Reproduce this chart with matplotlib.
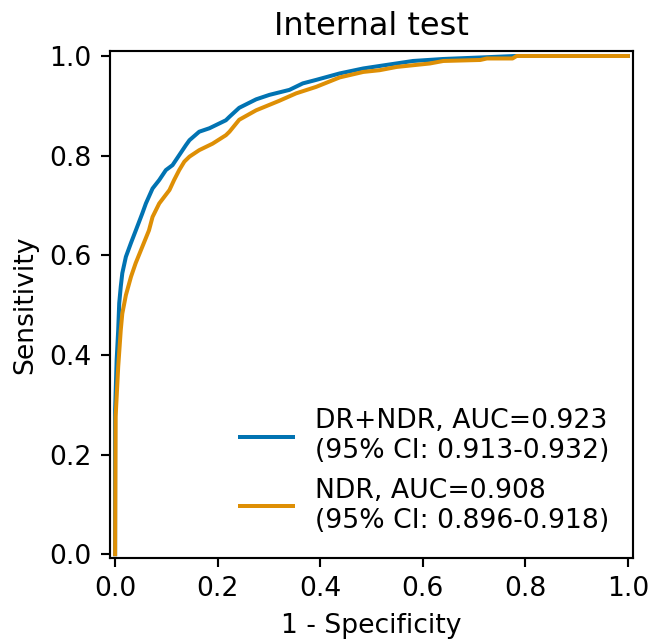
import matplotlib
matplotlib.use('Agg')
import matplotlib.pyplot as plt

# ROC points (1 - specificity, sensitivity)
fpr_all = [0.0, 0.0, 0.003, 0.006, 0.008, 0.011, 0.014, 0.021, 0.031, 0.040, 0.053, 0.060,
           0.073, 0.086, 0.099, 0.112, 0.125, 0.138, 0.145, 0.164, 0.184, 0.216, 0.223,
           0.242, 0.275, 0.301, 0.340, 0.366, 0.392, 0.438, 0.484, 0.529, 0.581, 0.640,
           0.712, 0.780, 1.0]
tpr_all = [0.0, 0.29, 0.39, 0.45, 0.504, 0.537, 0.564, 0.597, 0.625, 0.649, 0.684, 0.704,
           0.734, 0.751, 0.771, 0.781, 0.801, 0.821, 0.831, 0.848, 0.855, 0.871, 0.878,
           0.896, 0.913, 0.922, 0.932, 0.945, 0.952, 0.965, 0.975, 0.982, 0.990, 0.994,
           0.997, 1.0, 1.0]

fpr_ndr = [0.0, 0.001, 0.006, 0.011, 0.014, 0.021, 0.031, 0.040, 0.053, 0.066, 0.073,
           0.086, 0.106, 0.115, 0.125, 0.135, 0.145, 0.164, 0.190, 0.216, 0.223, 0.242,
           0.275, 0.320, 0.353, 0.392, 0.438, 0.484, 0.516, 0.549, 0.614, 0.640, 0.712,
           0.725, 0.775, 0.783, 1.0]
tpr_ndr = [0.0, 0.276, 0.376, 0.450, 0.483, 0.520, 0.557, 0.584, 0.617, 0.650, 0.677,
           0.704, 0.731, 0.751, 0.771, 0.788, 0.798, 0.811, 0.824, 0.841, 0.848, 0.872,
           0.891, 0.910, 0.925, 0.938, 0.957, 0.968, 0.9715, 0.978, 0.985, 0.990, 0.992,
           0.995, 0.995, 1.0, 1.0]

labels = ['DR+NDR, AUC=0.923\n(95% CI: 0.913-0.932)',
          'NDR, AUC=0.908\n(95% CI: 0.896-0.918)']
colors = ['#0173b2', '#de8f05']
ticks = [0.0, 0.2, 0.4, 0.6, 0.8, 1.0]

fig = plt.figure(figsize=(652 / 192, 644 / 192), dpi=192)
ax = fig.add_axes([0.1687, 0.134, 0.8022, 0.7868])

ax.plot(fpr_all, tpr_all, color=colors[0], lw=1.5, label=labels[0])
ax.plot(fpr_ndr, tpr_ndr, color=colors[1], lw=1.5, label=labels[1])

ax.set_xlim(-0.01, 1.01)
ax.set_ylim(-0.007, 1.01)
ax.set_xticks(ticks)
ax.set_yticks(ticks)
ax.set_xlabel('1 - Specificity')
ax.set_ylabel('Sensitivity')
ax.set_title('Internal test', fontsize=12)
ax.legend(loc='lower right', frameon=False, fontsize=10)

fig.savefig('out.png', dpi=192)
